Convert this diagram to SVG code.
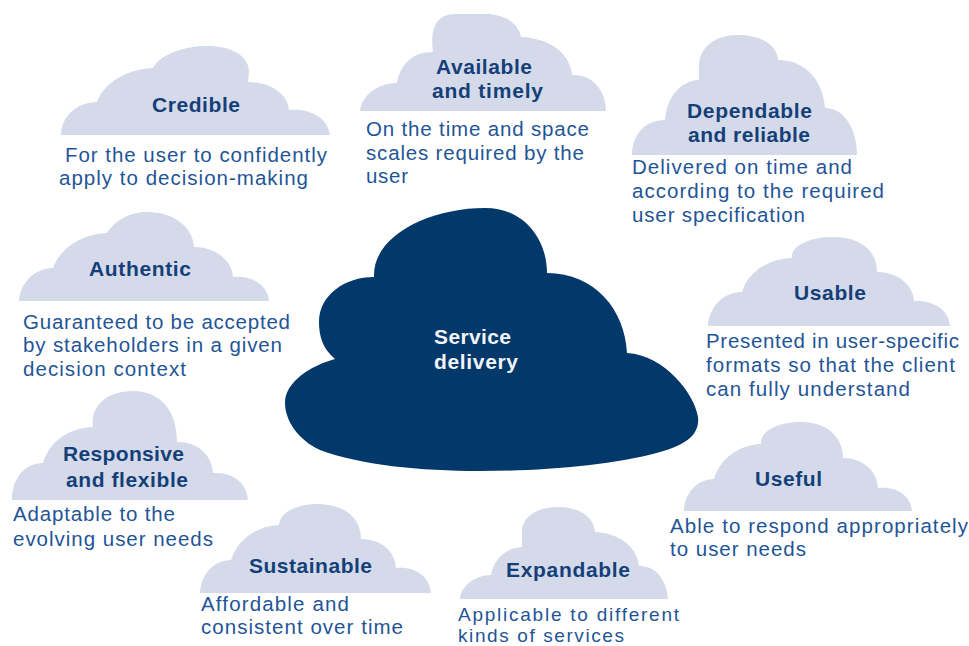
<svg xmlns="http://www.w3.org/2000/svg" width="969" height="646" viewBox="0 0 969 646">
<style>
text{font-family:"Liberation Sans",Arial,sans-serif;font-size:20.5px;fill:#1f5597}
.t{font-weight:700;font-size:21px;fill:#143f78}
.w{font-weight:700;font-size:21px;fill:#f2f4f8}
.s{font-size:19px}
.c{fill:#d5daea}
</style>
<rect width="969" height="646" fill="#fff"/>
<g id="center"><path fill="#03386b" d="M374 275C374 235 430 208 485 208C525 208 547 240 547 273C595 273 625 310 627 353C665 355 695 395 698 417C700 435 685 445 660 452C610 466 540 471 480 471C420 471 360 465 320 450C298 440 285 420 285 403C285 382 310 366 335 359C322 348 319 335 319 322C319 295 345 277 374 277Z"/>
<text class="w" x="434" y="344" textLength="77">Service</text><text class="w" x="434" y="369" textLength="84">delivery</text></g>
<g id="credible"><path class="c" d="M61 135C61 117 77 102 97 102C104 82 128 69 153 68C160 54 185 46 207 46C232 46 249 56 249 72L248 82C270 82 288 94 289 110C310 108 328 118 330 135Z"/>
<text class="t" x="152" y="112" textLength="88">Credible</text>
<text x="65" y="162" textLength="262">For the user to confidently</text><text x="59" y="185" textLength="249">apply to decision-making</text></g>
<g id="available"><path class="c" d="M360 111C362 95 378 83 397 83C400 65 412 52 433 52C431 38 431 14 455 14L490 14C508 16 519 25 521 37C548 38 570 52 572 75C592 74 606 90 606 111Z"/>
<text class="t" x="436" y="74" textLength="96">Available</text><text class="t" x="432" y="98" textLength="111">and timely</text>
<text x="366" y="136" textLength="223">On the time and space</text><text x="366" y="160" textLength="218">scales required by the</text><text x="366" y="183" textLength="42">user</text></g>
<g id="dependable"><path class="c" d="M632 155C632 135 645 120 665 120C667 97 680 81 699 80L699 65C700 47 715 35 738 35C760 35 777 44 778 60C805 60 823 80 825 108C845 108 857 130 857 155Z"/>
<text class="t" x="687" y="118" textLength="125">Dependable</text><text class="t" x="688" y="142" textLength="122">and reliable</text>
<text x="632" y="174" textLength="220">Delivered on time and</text><text x="632" y="198" textLength="252">according to the required</text><text x="632" y="222" textLength="173">user specification</text></g>
<g id="authentic"><path class="c" d="M19 301C20 283 35 268 53 268C60 248 82 234 107 233C115 220 130 212 147 212C175 212 193 228 194 247C215 247 232 260 233 277C252 275 268 285 269 301Z"/>
<text class="t" x="89" y="276" textLength="102">Authentic</text>
<text x="23" y="329" textLength="267">Guaranteed to be accepted</text><text x="23" y="352" textLength="259">by stakeholders in a given</text><text x="23" y="376" textLength="163">decision context</text></g>
<g id="usable"><path class="c" d="M708 326C709 307 723 292 742 292C748 272 768 259 792 258C790 246 810 237 833 237C860 237 877 250 877 272C897 272 913 284 914 301C934 300 949 310 950 326Z"/>
<text class="t" x="794" y="300" textLength="72">Usable</text>
<text x="706" y="348" textLength="253">Presented in user-specific</text><text x="706" y="372" textLength="249">formats so that the client</text><text x="706" y="396" textLength="204">can fully understand</text></g>
<g id="responsive"><path class="c" d="M12 500C12 478 25 463 43 463C50 440 70 428 93 427C90 405 108 391 133 391C160 391 177 410 177 442C198 442 212 455 213 473C233 472 247 483 248 500Z"/>
<text class="t" x="63" y="461" textLength="121">Responsive</text><text class="t" x="66" y="487" textLength="122">and flexible</text>
<text x="13" y="521" textLength="162">Adaptable to the</text><text x="13" y="546" textLength="200">evolving user needs</text></g>
<g id="useful"><path class="c" d="M684 511C684 494 697 479 714 479C720 459 738 445 761 444C760 431 778 422 801 422C826 422 843 436 843 458C862 458 877 470 878 488C897 486 911 496 912 511Z"/>
<text class="t" x="755" y="486" textLength="67">Useful</text>
<text x="670" y="533" textLength="298">Able to respond appropriately</text><text x="670" y="556" textLength="136">to user needs</text></g>
<g id="sustainable"><path class="c" d="M200 593C201 574 214 560 231 560C238 538 258 526 279 525C280 512 297 504 317 504C345 504 361 518 361 539C380 539 395 550 396 568C415 566 430 577 431 593Z"/>
<text class="t" x="249" y="573" textLength="123">Sustainable</text>
<text x="201" y="611" textLength="148">Affordable and</text><text x="201" y="634" textLength="202">consistent over time</text></g>
<g id="expandable"><path class="c" d="M460 599C461 586 475 575 491 575C494 560 505 548 522 547L522 530C523 516 538 507 558 507C578 507 594 516 595 532C618 533 637 546 639 566C655 565 667 580 668 599Z"/>
<text class="t" x="506" y="577" textLength="124">Expandable</text>
<text class="s" x="458" y="621" textLength="221">Applicable to different</text><text class="s" x="458" y="642" textLength="166">kinds of services</text></g>
<g id="connectors"/>
</svg>
